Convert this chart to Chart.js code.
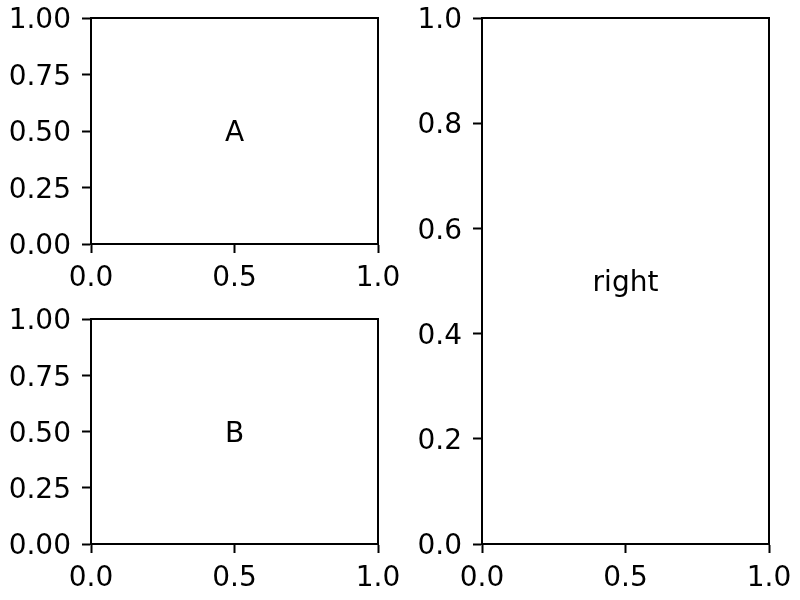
<!DOCTYPE html>
<html>
<head>
<meta charset="utf-8">
<script src="https://cdn.jsdelivr.net/npm/chart.js@4.4.1/dist/chart.umd.min.js"></script>
<style>
  html, body { margin: 0; padding: 0; background: #fff; }
  #fig { position: relative; width: 800px; height: 600px; overflow: hidden; }
  canvas { position: absolute; }
</style>
</head>
<body>
<div id="fig">
  <canvas id="chartA" width="400" height="300" style="left:0;top:0"></canvas>
  <canvas id="chartB" width="400" height="300" style="left:0;top:300px"></canvas>
  <canvas id="chartRight" width="400" height="600" style="left:400px;top:0"></canvas>
</div>
<script>
// Axis ticks and panel labels
const xTicks = [0, 0.5, 1.0];
const leftYTicks = [0, 0.25, 0.5, 0.75, 1.0];
const rightYTicks = [0, 0.2, 0.4, 0.6, 0.8, 1.0];
const panelLabels = ['A', 'B', 'right'];

Chart.defaults.font.family = "'DejaVu Sans', sans-serif";
Chart.defaults.font.size = 28;
Chart.defaults.color = '#000';

// Box around the plot area plus the text in the middle
const framePlugin = {
    id: 'frame',
    afterDraw(chart, args, opts) {
        const { ctx, chartArea: a, scales } = chart;
        ctx.save();
        ctx.strokeStyle = '#000';
        ctx.lineWidth = 2;
        ctx.strokeRect(a.left, a.top, a.right - a.left, a.bottom - a.top);
        ctx.fillStyle = '#000';
        ctx.font = "28px 'DejaVu Sans', sans-serif";
        ctx.textAlign = 'center';
        ctx.textBaseline = 'middle';
        // 'middle' sits a little high for DejaVu, nudge down
        ctx.fillText(opts.label, scales.x.getPixelForValue(0.5), scales.y.getPixelForValue(0.5) + 3);
        ctx.restore();
    }
};

function makeAxis(ticks, digits, size, isX) {
    return {
        type: 'linear',
        min: 0,
        max: 1,
        afterBuildTicks: s => { s.ticks = ticks.map(v => ({ value: v })); },
        afterFit: s => {
            // fixed axis size, and no extra room for overhanging labels
            if (isX) s.height = size; else s.width = size;
            s.paddingTop = s.paddingBottom = s.paddingLeft = s.paddingRight = 0;
        },
        ticks: {
            padding: isX ? 9 : 11,
            labelOffset: isX ? 0 : 3,
            autoSkip: false,
            maxRotation: 0,
            callback: v => Number(v).toFixed(digits)
        },
        grid: {
            drawOnChartArea: false,
            drawTicks: true,
            tickLength: 9,
            tickWidth: 2,
            tickColor: '#000'
        },
        border: { display: true, color: '#000', width: 2 }
    };
}

function createPanel(id, label, yTicks, yDigits, yWidth, pad) {
    new Chart(document.getElementById(id), {
        type: 'scatter',
        data: { datasets: [{ data: [] }] },
        options: {
            responsive: false,
            animation: false,
            devicePixelRatio: 1,
            layout: { padding: pad },
            plugins: {
                legend: { display: false },
                tooltip: { enabled: false },
                frame: { label: label }
            },
            scales: {
                x: makeAxis(xTicks, 1, 56, true),
                y: makeAxis(yTicks, yDigits, yWidth, false)
            }
        },
        plugins: [framePlugin]
    });
}

createPanel('chartA', panelLabels[0], leftYTicks, 2, 91, { top: 18, right: 22, left: 0, bottom: 0 });
createPanel('chartB', panelLabels[1], leftYTicks, 2, 91, { top: 19, right: 22, left: 0, bottom: 0 });
createPanel('chartRight', panelLabels[2], rightYTicks, 1, 82, { top: 18, right: 31, left: 0, bottom: 0 });
</script>
</body>
</html>
